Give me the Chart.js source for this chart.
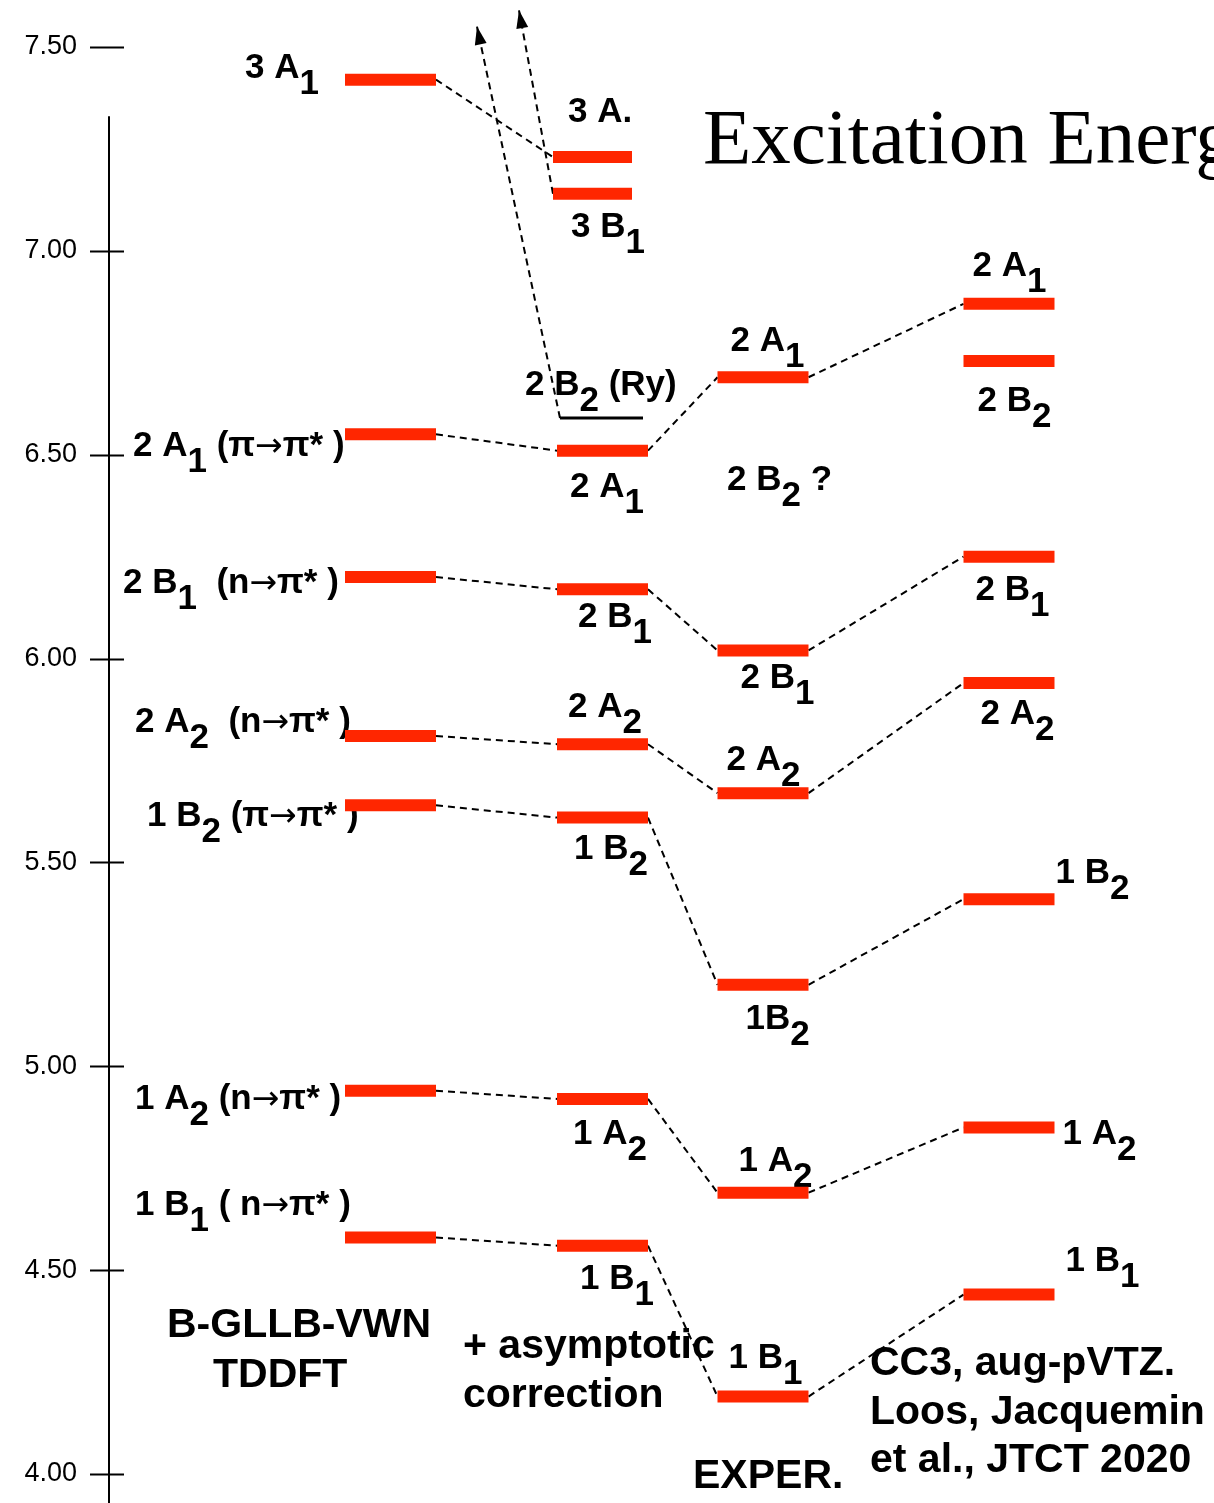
<!DOCTYPE html>
<html>
<head>
<meta charset="utf-8">
<script src="https://cdn.jsdelivr.net/npm/chart.js@4.4.0/dist/chart.umd.min.js"></script>
<style>
  html, body { margin: 0; padding: 0; background: #fff; }
  canvas { display: block; }
</style>
</head>
<body>
<canvas id="levels" width="1214" height="1503"></canvas>
<script>
// ---- data (eV) ----
// state ids are used to join the same state in neighbouring columns
const tddftStates = ['3A1', '2A1', '2B1', '2A2', '1B2', '1A2', '1B1'];
const tddftEnergies = [7.42, 6.55, 6.20, 5.81, 5.64, 4.94, 4.58];
const tddftLabels = ['3 A_1', '2 A_1 (π→π* )', '2 B_1  (n→π* )', '2 A_2  (n→π* )', '1 B_2 (π→π* )', '1 A_2 (n→π* )', '1 B_1 ( n→π* )'];

const asymStates = ['3A1', '3B1', '2A1', '2B1', '2A2', '1B2', '1A2', '1B1'];
const asymEnergies = [7.23, 7.14, 6.51, 6.17, 5.79, 5.61, 4.92, 4.56];
const asymLabels = ['3 A.', '3 B_1', '2 A_1', '2 B_1', '2 A_2', '1 B_2', '1 A_2', '1 B_1'];

const rydbergLabel = '2 B_2 (Ry)';
const rydbergEnergy = 6.59;

const experStates = ['2A1', '2B1', '2A2', '1B2', '1A2', '1B1'];
const experEnergies = [6.69, 6.02, 5.67, 5.20, 4.69, 4.19];
const experLabels = ['2 A_1', '2 B_1', '2 A_2', '1B_2', '1 A_2', '1 B_1'];

const cc3States = ['2A1', '2B2', '2B1', '2A2', '1B2', '1A2', '1B1'];
const cc3Energies = [6.87, 6.73, 6.25, 5.94, 5.41, 4.85, 4.44];
const cc3Labels = ['2 A_1', '2 B_2', '2 B_1', '2 A_2', '1 B_2', '1 A_2', '1 B_1'];

const yTicks = [4.00, 4.50, 5.00, 5.50, 6.00, 6.50, 7.00, 7.50];
const arrowTipEnergies = [7.55, 7.59]; // dashed arrows leaving the top of the plot

// ---- layout (x in scale units = pixels) ----
const RED = '#ff2600';
const columns = [
  { states: tddftStates, energies: tddftEnergies, labels: tddftLabels, center: 390.5, half: 45.5,
    spans: {},
    offsets: [[-100, -2], [-212, 22], [-222, 16], [-210, -4], [-198, 21], [-210, 18], [-210, -23]] },
  { states: asymStates, energies: asymEnergies, labels: asymLabels, center: 602.5, half: 45.5,
    spans: { 0: [553, 632], 1: [553, 632] },
    offsets: [[15, -35], [18, 43], [13, 46], [21, 38], [11, -27], [17, 41], [16, 45], [23, 43]] },
  { states: experStates, energies: experEnergies, labels: experLabels, center: 763, half: 45.5,
    spans: {},
    offsets: [[13, -26], [23, 38], [9, -23], [28, 44], [21, -22], [11, -29]] },
  { states: cc3States, energies: cc3Energies, labels: cc3Labels, center: 1009, half: 45.5,
    spans: {},
    offsets: [[9, -28], [14, 50], [12, 43], [17, 41], [92, -16], [99, 17], [102, -24]] }
];
const rydbergSpan = [560, 643];
const rydbergOffset = [-35, -23];
const arrowTipX = [477, 519];

const freeTexts = [
  { text: 'Excitation Energies', x: 703, y: 163, font: '79px "Liberation Serif", serif' },
  { text: 'B-GLLB-VWN', x: 167, y: 1337 },
  { text: 'TDDFT', x: 213, y: 1387 },
  { text: '+ asymptotic', x: 463, y: 1358 },
  { text: 'correction', x: 463, y: 1407 },
  { text: 'EXPER.', x: 693, y: 1488 },
  { text: 'CC3, aug-pVTZ.', x: 870, y: 1375 },
  { text: 'Loos, Jacquemin', x: 870, y: 1424 },
  { text: 'et al., JTCT 2020', x: 870, y: 1472 },
  { text: '2 B_2 ?', x: 727, y: 490, level: true }
];

const LEVEL_FONT = 'bold 35px "Liberation Sans", Arial, sans-serif';
const ARROW_FONT = '33px "DejaVu Sans", sans-serif';
const CAPTION_FONT = 'bold 41px "Liberation Sans", Arial, sans-serif';

function span(col, i) {
  return col.spans[i] || [col.center - col.half, col.center + col.half];
}

// ---- datasets ----
const datasets = [];
columns.forEach((col) => {
  col.energies.forEach((e, i) => {
    const s = span(col, i);
    datasets.push({ data: [{ x: s[0], y: e }, { x: s[1], y: e }], borderColor: RED, borderWidth: 12, order: 0 });
  });
});
datasets.push({ data: [{ x: rydbergSpan[0], y: rydbergEnergy }, { x: rydbergSpan[1], y: rydbergEnergy }], borderColor: '#000', borderWidth: 3, order: 0 });

// dashed connectors between the same state in neighbouring columns
for (let c = 0; c < columns.length - 1; c++) {
  const a = columns[c], b = columns[c + 1];
  a.states.forEach((st, i) => {
    const j = b.states.indexOf(st);
    if (j < 0) return;
    datasets.push({
      data: [{ x: span(a, i)[1], y: a.energies[i] }, { x: span(b, j)[0], y: b.energies[j] }],
      borderColor: '#000', borderWidth: 2, borderDash: [7, 5], order: 1
    });
  });
}

// arrows going off the top
const arrowStarts = [
  { x: rydbergSpan[0], y: rydbergEnergy },
  { x: span(columns[1], 1)[0], y: asymEnergies[1] }
];
arrowStarts.forEach((p, k) => {
  datasets.push({
    data: [p, { x: arrowTipX[k], y: arrowTipEnergies[k] }],
    borderColor: '#000', borderWidth: 2, borderDash: [7, 5], order: 1, arrow: true
  });
});

datasets.forEach(d => { d.pointRadius = 0; d.fill = false; d.borderCapStyle = 'butt'; d.tension = 0; });

// ---- drawing helpers ----
// "_x" makes x a subscript, arrows are drawn in a thin font
function drawRich(ctx, str, x, y, font) {
  const parts = str.split(/_(.)/);
  let cx = x;
  parts.forEach((p, k) => {
    const dy = k % 2 === 1 ? 16 : 0;
    p.split(/(→)/).forEach(q => {
      if (!q) return;
      ctx.font = q === '→' ? ARROW_FONT : font;
      ctx.fillText(q, cx, y + dy);
      cx += ctx.measureText(q).width;
    });
  });
}

const decorations = {
  id: 'decorations',
  beforeDatasetsDraw(chart) {
    const ctx = chart.ctx;
    const xs = chart.scales.x, ys = chart.scales.y;
    const area = chart.chartArea;
    ctx.save();
    ctx.fillStyle = '#000';
    ctx.strokeStyle = '#000';
    ctx.textBaseline = 'alphabetic';
    ctx.textAlign = 'left';

    // axis line (starts a little below the top tick) and crossing ticks
    ctx.lineWidth = 2;
    ctx.beginPath();
    ctx.moveTo(area.left, ys.getPixelForValue(7.33));
    ctx.lineTo(area.left, area.bottom);
    yTicks.forEach(v => {
      const py = Math.round(ys.getPixelForValue(v)) + 0.5;
      ctx.moveTo(area.left - 19, py);
      ctx.lineTo(area.left + 15, py);
    });
    ctx.stroke();

    // level labels
    columns.forEach(col => {
      col.labels.forEach((lab, i) => {
        const s = span(col, i);
        const px = xs.getPixelForValue(s[0]) + col.offsets[i][0];
        const py = ys.getPixelForValue(col.energies[i]) + col.offsets[i][1];
        drawRich(ctx, lab, px, py, LEVEL_FONT);
      });
    });
    drawRich(ctx, rydbergLabel,
      xs.getPixelForValue(rydbergSpan[0]) + rydbergOffset[0],
      ys.getPixelForValue(rydbergEnergy) + rydbergOffset[1], LEVEL_FONT);

    // captions and title
    freeTexts.forEach(t => {
      drawRich(ctx, t.text, t.x, t.y, t.font || (t.level ? LEVEL_FONT : CAPTION_FONT));
    });
    ctx.restore();
  },
  afterDatasetsDraw(chart) {
    const ctx = chart.ctx;
    ctx.save();
    ctx.fillStyle = '#000';
    // arrowheads
    chart.data.datasets.forEach((d, i) => {
      if (!d.arrow) return;
      const meta = chart.getDatasetMeta(i);
      const p0 = meta.data[0], p1 = meta.data[1];
      const ang = Math.atan2(p1.y - p0.y, p1.x - p0.x);
      ctx.save();
      ctx.translate(p1.x, p1.y);
      ctx.rotate(ang);
      ctx.beginPath();
      ctx.moveTo(0, 0);
      ctx.lineTo(-18, -6);
      ctx.lineTo(-18, 6);
      ctx.closePath();
      ctx.fill();
      ctx.restore();
    });
    ctx.restore();
  }
};

new Chart(document.getElementById('levels'), {
  type: 'line',
  data: { datasets: datasets },
  options: {
    responsive: false,
    animation: false,
    layout: { padding: 0 },
    plugins: { legend: { display: false }, tooltip: { enabled: false } },
    scales: {
      x: { type: 'linear', min: 109, max: 1214, display: false },
      y: {
        type: 'linear',
        min: 3.9289,
        max: 7.6153,
        position: 'left',
        border: { display: false },
        grid: { drawOnChartArea: false, drawTicks: false },
        ticks: {
          padding: 32,
          color: '#000',
          font: { family: '"Liberation Sans", Arial, sans-serif', size: 27 },
          callback: v => Number(v).toFixed(2)
        },
        afterBuildTicks: s => { s.ticks = yTicks.map(v => ({ value: v })); },
        afterFit: s => { s.width = 109; s.paddingTop = 0; s.paddingBottom = 0; }
      }
    }
  },
  plugins: [decorations]
});
</script>
</body>
</html>
